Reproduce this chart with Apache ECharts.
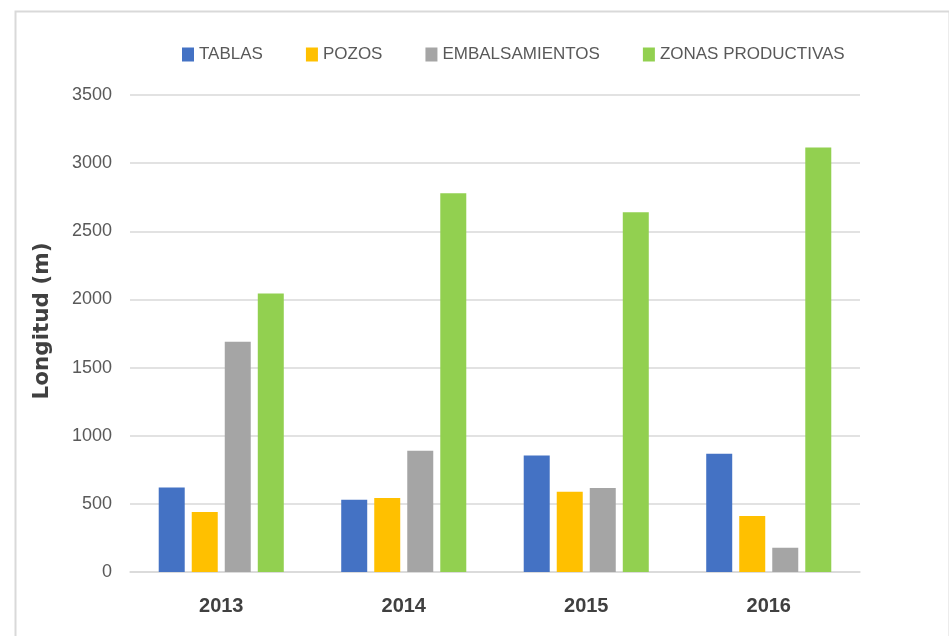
<!DOCTYPE html>
<html>
<head>
<meta charset="utf-8">
<script src="https://cdn.jsdelivr.net/npm/echarts@6/dist/echarts.min.js"></script>
<style>html,body{margin:0;padding:0;background:#fff;}#c{width:949px;height:636px;}</style>
</head>
<body>
<div id="c"></div>
<script>
const categories = ['2013', '2014', '2015', '2016'];
const seriesNames = ['TABLAS', 'POZOS', 'EMBALSAMIENTOS', 'ZONAS PRODUCTIVAS'];
const tablas = [620, 530, 855, 867];
const pozos = [440, 543, 588, 410];
const embalsamientos = [1690, 890, 617, 178];
const zonasProductivas = [2043, 2780, 2640, 3115];
const yTicks = [0, 500, 1000, 1500, 2000, 2500, 3000, 3500];
const yAxisTitle = 'Longitud (m)';

const colors = ['#4472C4', '#FFC000', '#A5A5A5', '#92D050'];
const values = [tablas, pozos, embalsamientos, zonasProductivas];
const sans = '"Liberation Sans", Arial, sans-serif';

const chart = echarts.init(document.getElementById('c'), null, {renderer: 'canvas'});
chart.setOption({
  animation: false,
  backgroundColor: '#ffffff',
  color: colors,
  graphic: [{
    type: 'rect', left: 13, top: 9,
    shape: {width: 934, height: 640},
    style: {fill: 'none', stroke: '#d9d9d9', lineWidth: 2},
    silent: true
  }, {
    type: 'text', x: 42, y: 321, rotation: Math.PI / 2,
    style: {
      text: yAxisTitle, align: 'center', verticalAlign: 'middle',
      font: 'bold 21.5px "DejaVu Sans", sans-serif', fill: '#404040'
    },
    silent: true
  }],
  legend: {
    left: 177, top: 41,
    itemWidth: 12, itemHeight: 14, itemGap: 43,
    icon: 'rect',
    textStyle: {fontFamily: sans, fontSize: 17, color: '#595959'},
    data: seriesNames
  },
  grid: {left: 130, right: 89, top: 95, bottom: 64, containLabel: false},
  xAxis: {
    type: 'category', data: categories,
    axisTick: {show: false},
    axisLine: {lineStyle: {color: '#d9d9d9', width: 1.5}},
    axisLabel: {margin: 24, fontFamily: sans, fontWeight: 'bold', fontSize: 20, color: '#404040'}
  },
  yAxis: {
    type: 'value', min: yTicks[0], max: yTicks[yTicks.length - 1], interval: 500,
    axisLine: {show: false}, axisTick: {show: false},
    axisLabel: {margin: 18, fontFamily: sans, fontSize: 18, color: '#595959', formatter: v => String(v)},
    splitLine: {lineStyle: {color: '#d9d9d9', width: 1.5}}
  },
  series: seriesNames.map((n, i) => ({
    name: n, type: 'bar', data: values[i],
    barWidth: 26, barGap: '27%'
  }))
});
</script>
</body>
</html>
